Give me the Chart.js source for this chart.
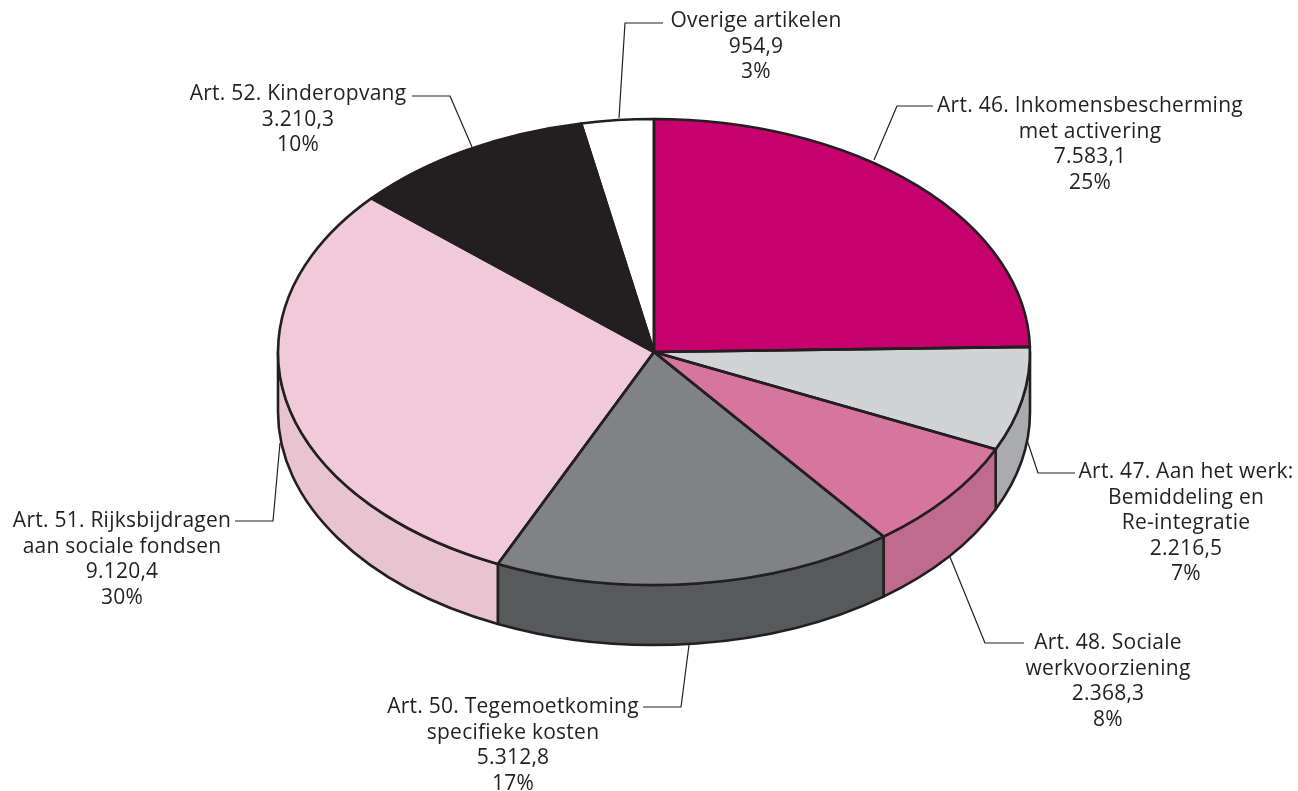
<!DOCTYPE html>
<html lang="nl">
<head>
<meta charset="utf-8">
<title>Uitgaven per artikel</title>
<script src="https://cdn.jsdelivr.net/npm/chart.js@4"></script>
<style>
    html, body { margin: 0; padding: 0; background: #fff; }
    #pieWrap { width: 1298px; height: 791px; }
</style>
</head>
<body>
<div id="pieWrap"><canvas id="pieChart" width="1298" height="791"></canvas></div>
<script>
// ================= DATA =================
const categories = [
    ["Art. 46. Inkomensbescherming", "met activering"],
    ["Art. 47. Aan het werk:", "Bemiddeling en", "Re-integratie"],
    ["Art. 48. Sociale", "werkvoorziening"],
    ["Art. 50. Tegemoetkoming", "specifieke kosten"],
    ["Art. 51. Rijksbijdragen", "aan sociale fondsen"],
    ["Art. 52. Kinderopvang"],
    ["Overige artikelen"]
];
const seriesValues = [7583.1, 2216.5, 2368.3, 5312.8, 9120.4, 3210.3, 954.9];
const valueLabels = ["7.583,1", "2.216,5", "2.368,3", "5.312,8", "9.120,4", "3.210,3", "954,9"];
const percentLabels = ["25%", "7%", "8%", "17%", "30%", "10%", "3%"];

// ================= STYLE =================
const topColors = ["#c6006d", "#d1d3d4", "#d7769c", "#808285", "#f0cad8", "#231f20", "#ffffff"];
const wallColors = ["#8f004f", "#a9abae", "#c06a8d", "#58595b", "#e8c3d0", "#231f20", "#ffffff"];
const inkColor = "#231f20";

// the flattened disc on the page
const discX = 654, discY = 352, discRx = 376, discRy = 233, discDepth = 60;

// label block: centre x and first baseline
const labelPos = [
    [1090, 112], [1186, 478], [1108, 649], [513, 713], [122, 527], [298, 100], [756, 27]
];
// leader lines from the pie out to the label
const leaders = [
    [[874, 160], [897, 106], [933, 106]],
    [[1027, 440], [1038, 473], [1075, 473]],
    [[950, 557], [985, 643], [1024, 643]],
    [[689, 645], [681, 707], [643, 707]],
    [[280, 443], [273, 521], [235, 521]],
    [[472, 147], [450, 96], [412, 96]],
    [[619, 118], [625, 23], [663, 23]]
];

const squash = discRy / discRx;

// side walls go under the slices, slice fills get squashed by the transform
const discPlugin = {
    id: 'disc3d',
    beforeDatasetsDraw(chart) {
        const ctx = chart.ctx;
        const arcs = chart.getDatasetMeta(0).data;

        ctx.save();
        ctx.lineWidth = 2.6;
        ctx.strokeStyle = inkColor;
        ctx.lineJoin = 'round';
        arcs.forEach((arc, i) => {
            const a = Math.max(arc.startAngle, 0);
            const b = Math.min(arc.endAngle, Math.PI);
            if (a >= b) return;
            ctx.beginPath();
            ctx.ellipse(discX, discY, discRx, discRy, 0, a, b);
            ctx.ellipse(discX, discY + discDepth, discRx, discRy, 0, b, a, true);
            ctx.closePath();
            ctx.fillStyle = wallColors[i];
            ctx.fill();
            ctx.stroke();
        });
        ctx.restore();

        ctx.save();
        ctx.translate(discX, discY);
        ctx.scale(1, squash);
        ctx.translate(-arcs[0].x, -arcs[0].y);
    },
    afterDatasetsDraw(chart) {
        const ctx = chart.ctx;
        ctx.restore();

        // outlines in page space so the line keeps its width
        ctx.save();
        ctx.lineWidth = 2.6;
        ctx.strokeStyle = inkColor;
        ctx.lineJoin = 'round';
        chart.getDatasetMeta(0).data.forEach(arc => {
            ctx.beginPath();
            ctx.moveTo(discX, discY);
            ctx.ellipse(discX, discY, discRx, discRy, 0, arc.startAngle, arc.endAngle);
            ctx.closePath();
            ctx.stroke();
        });

        // leaders
        ctx.lineWidth = 1.2;
        leaders.forEach(points => {
            ctx.beginPath();
            points.forEach((p, i) => i ? ctx.lineTo(p[0], p[1]) : ctx.moveTo(p[0], p[1]));
            ctx.stroke();
        });

        // labels
        ctx.fillStyle = inkColor;
        ctx.font = '21px "Open Sans"';
        ctx.letterSpacing = '0.25px';
        ctx.textAlign = 'center';
        ctx.textBaseline = 'alphabetic';
        categories.forEach((lines, i) => {
            const block = lines.concat([valueLabels[i], percentLabels[i]]);
            block.forEach((line, n) => {
                ctx.fillText(line, labelPos[i][0], labelPos[i][1] + n * 25.6);
            });
        });
        ctx.restore();
    }
};

new Chart(document.getElementById('pieChart'), {
    type: 'pie',
    data: {
        labels: categories.map(c => c.join(' ')),
        datasets: [{
            data: seriesValues,
            backgroundColor: topColors,
            borderWidth: 0
        }]
    },
    options: {
        responsive: false,
        animation: false,
        radius: discRx,
        plugins: { legend: { display: false }, tooltip: { enabled: false } }
    },
    plugins: [discPlugin]
});
</script>
</body>
</html>
